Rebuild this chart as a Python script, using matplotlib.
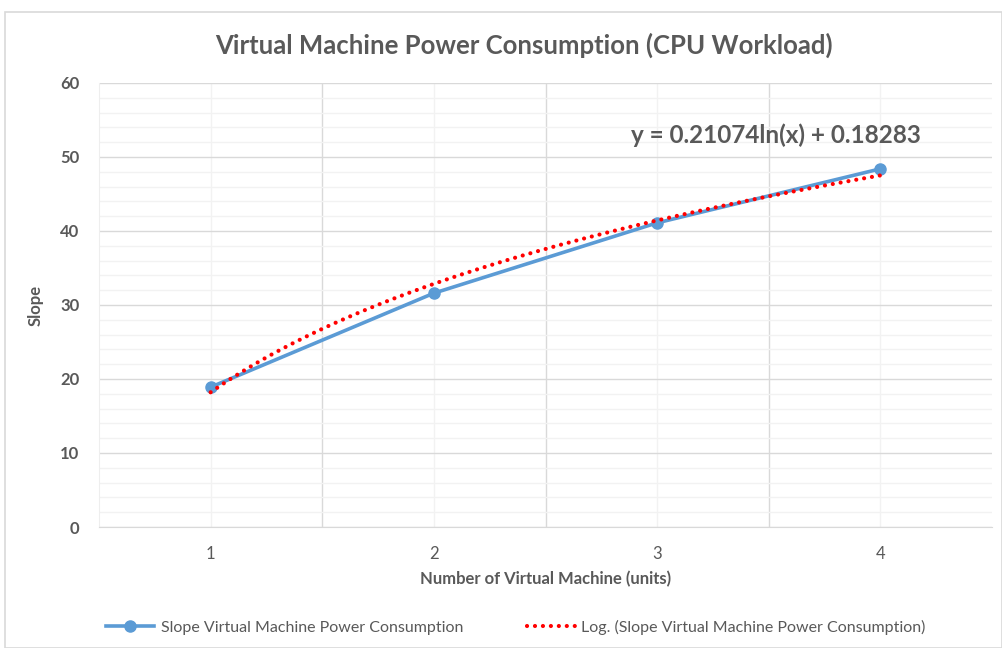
import numpy as np
import matplotlib.pyplot as plt
from matplotlib.patches import Rectangle

plt.rcParams['font.family'] = ['Lato', 'DejaVu Sans']

# data
vms = [1, 2, 3, 4]
slope = [18.9, 31.6, 41.1, 48.4]
tick_labels = ['1', '2', '3', '4']

# logarithmic trendline fitted to the series
a, b = np.polyfit(np.log(vms), slope, 1)
xs = np.linspace(1, 4, 200)
trend = a * np.log(xs) + b

grey = '#595959'
fig = plt.figure(figsize=(10.02, 6.48), dpi=100)
fig.patches.append(Rectangle((5/1002, 0), 1 - 5/1002, 1 - 12/648, transform=fig.transFigure,
                             fill=False, edgecolor='#d9d9d9', lw=1.2))
ax = fig.add_axes([99/1002, 1 - 527/648, (992-99)/1002, (527-83)/648])

ax.plot(vms, slope, color='#5b9bd5', lw=2.6, marker='o', ms=8, zorder=3,
        label='Slope Virtual Machine Power Consumption')
ax.plot(xs, trend, color='red', lw=3, linestyle=(0, (0.01, 1.9)), dash_capstyle='round', zorder=4,
        label='Log. (Slope Virtual Machine Power Consumption)')

ax.set_xlim(0.5, 4.5)
ax.set_ylim(0, 60)
ax.set_xticks(vms)
ax.set_xticklabels(tick_labels)
ax.set_yticks(range(0, 61, 10))
ax.set_yticks(range(0, 61, 2), minor=True)
ax.set_xticks([1.5, 2.5, 3.5], minor=True)

ax.grid(which='major', axis='y', color='#d9d9d9', lw=1)
ax.grid(which='minor', axis='y', color='#f2f2f2', lw=1)
ax.grid(which='major', axis='x', color='#f2f2f2', lw=1)
ax.grid(which='minor', axis='x', color='#d9d9d9', lw=1)
ax.set_axisbelow(True)
for s in ax.spines.values():
    s.set_visible(False)
ax.spines['bottom'].set_visible(True)
ax.spines['bottom'].set_color('#d9d9d9')
ax.spines['left'].set_visible(True)
ax.spines['left'].set_color('#eeeeee')
ax.tick_params(which='both', length=0)
ax.tick_params(axis='y', labelsize=12, labelcolor=grey, pad=14)
ax.tick_params(axis='x', labelsize=12, labelcolor=grey, pad=14)
for t in ax.get_yticklabels():
    t.set_fontweight('bold')

ax.set_ylabel('Slope', fontsize=12, fontweight='bold', color=grey, labelpad=12)
ax.set_xlabel('Number of Virtual Machine (units)', fontsize=12, fontweight='bold', color=grey, labelpad=6)

fig.text(0.523, 1 - 45/648, 'Virtual Machine Power Consumption (CPU Workload)', ha='center', va='center',
         fontsize=18.5, fontweight='bold', color=grey)
ax.text(3.53, 53, 'y = 0.21074ln(x) + 0.18283', fontsize=17.5, fontweight='bold', color=grey,
        ha='center', va='center')

fig.legend(loc='center', bbox_to_anchor=(0.515, 1 - 627/648), ncol=2, frameon=False,
           fontsize=11.5, labelcolor=grey, handlelength=3, columnspacing=4, handletextpad=0.4)

fig.savefig('out.png', dpi=100)
